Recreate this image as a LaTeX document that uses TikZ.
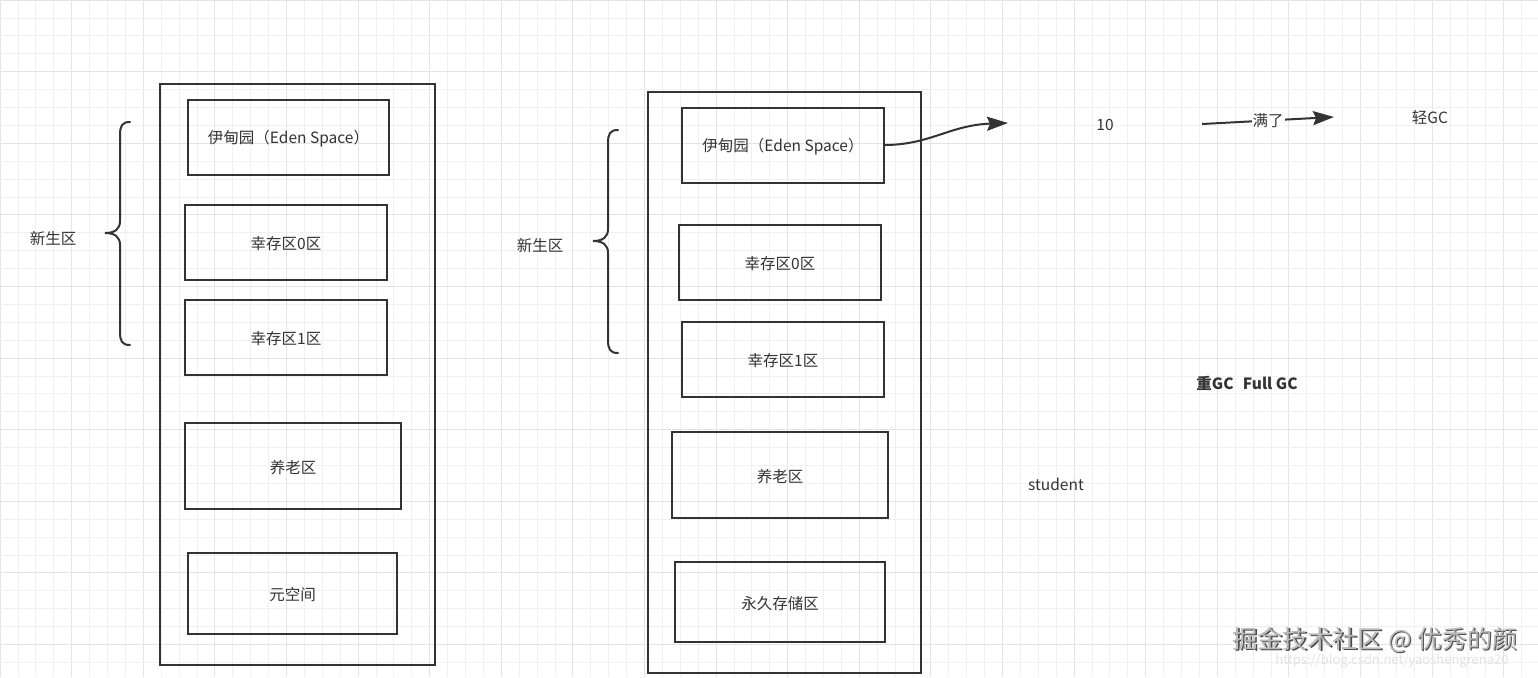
\documentclass[tikz,border=0pt]{standalone}
\usepackage{fontspec}
\setmainfont{Noto Sans CJK SC}
\usetikzlibrary{arrows.meta}
\definecolor{ink}{HTML}{333333}
\definecolor{gridminor}{HTML}{F0F0F0}
\definecolor{gridmajor}{HTML}{E4E4E4}
\tikzset{
  box/.style={draw=ink, line width=2pt, align=center, text=ink},
  lbl/.style={text=ink, font=\fontsize{15.5}{18}\selectfont, inner sep=1pt},
  brace/.style={draw=ink, line width=2pt, line cap=round},
  conn/.style={draw=ink, line width=2pt, -{Stealth[length=21pt,width=14pt,inset=3pt]}},
}
\newcommand{\boxat}[5]{% name, x1,y1,x2,y2
  \node[box, minimum width={#4-#2}, minimum height={#5-#3}, inner sep=0pt] (#1) at ({(#2+#4)/2},{(#3+#5)/2}) {};}
\begin{document}
\begin{tikzpicture}[x=1pt,y=-1pt]
\useasboundingbox (0,0) rectangle (1538,677);
\fill[white] (0,0) rectangle (1538,677);
% grid
\foreach \i in {0,...,86}{
  \pgfmathsetmacro\xx{\i*17.9}
  \pgfmathtruncatemacro\mm{mod(\i,4)}
  \ifnum\mm=0
    \draw[gridmajor, line width=0.9pt] (\xx,0) -- (\xx,677);
  \else
    \draw[gridminor, line width=0.7pt] (\xx,0) -- (\xx,677);
  \fi
}
\foreach \j in {0,...,38}{
  \pgfmathsetmacro\yy{\j*17.9}
  \pgfmathtruncatemacro\mm{mod(\j,4)}
  \ifnum\mm=0
    \draw[gridmajor, line width=0.9pt] (0,\yy) -- (1538,\yy);
  \else
    \draw[gridminor, line width=0.7pt] (0,\yy) -- (1538,\yy);
  \fi
}
% ---------- left column ----------
\boxat{outerL}{160}{84}{435}{665}
\boxat{edenL}{188}{100}{389}{175}
\boxat{s0L}{185}{205}{387}{280}
\boxat{s1L}{185}{300}{387}{375}
\boxat{oldL}{185}{423}{401}{509}
\boxat{metaL}{188}{553}{397}{634}
\node[lbl] at ([yshift=-1.5pt]edenL) {伊甸园（Eden Space）};
\node[lbl] at ([yshift=-1.5pt]s0L) {幸存区0区};
\node[lbl] at ([yshift=-1.5pt]s1L) {幸存区1区};
\node[lbl] at ([yshift=-1.5pt]oldL) {养老区};
\node[lbl] at ([yshift=-1.5pt]metaL) {元空间};
\draw[brace] (130,122) .. controls (122,122) and (120,126) .. (120,135) -- (120,221)
  .. controls (120,229) and (115,233) .. (105,233)
  .. controls (115,233) and (120,237) .. (120,245) -- (120,332)
  .. controls (120,341) and (122,345) .. (130,345);
\node[lbl] (yL) at (53,239) {新生区};
% ---------- right column ----------
\boxat{outerR}{648}{92}{921}{673}
\boxat{edenR}{682}{108}{884}{183}
\boxat{s0R}{679}{225}{881}{300}
\boxat{s1R}{682}{322}{884}{397}
\boxat{oldR}{672}{432}{888}{518}
\boxat{permR}{675}{562}{885}{642}
\node[lbl] at ([yshift=-1.5pt]edenR) {伊甸园（Eden Space）};
\node[lbl] at ([yshift=-1.5pt]s0R) {幸存区0区};
\node[lbl] at ([yshift=-1.5pt]s1R) {幸存区1区};
\node[lbl] at ([yshift=-1.5pt]oldR) {养老区};
\node[lbl] at ([yshift=-1.5pt]permR) {永久存储区};
\draw[brace] (618,130) .. controls (610,130) and (608,134) .. (608,143) -- (608,229)
  .. controls (608,237) and (603,241) .. (593,241)
  .. controls (603,241) and (608,245) .. (608,253) -- (608,340)
  .. controls (608,349) and (610,353) .. (618,353);
\node[lbl] (yR) at (540,246) {新生区};
% ---------- right side texts and arrows ----------
\coordinate (a1s) at (884,145);
\coordinate (a1e) at (1008,123);
\draw[conn] (a1s) .. controls (930,145) and (950,125) .. (a1e);
\node[lbl] (ten) at (1105,125) {10};
\coordinate (a2s) at (1202,124);
\coordinate (a2e) at (1334,117);
\draw[conn] (a2s) -- node[lbl, fill=white, inner sep=1pt, pos=0.5] (full) {满了} (a2e);
\node[lbl] (light) at (1430,118) {轻GC};
\node[lbl, font=\fontsize{15.5}{18}\selectfont\bfseries] (heavy) at (1247,383) {重GC\hspace{0.6em}Full GC};
\node[lbl] (stu) at (1056,484) {student};
% watermark
\node[text=gray!22, font=\fontsize{13}{14}\selectfont, inner sep=0pt] (wm2) at (1392,661) {https://blog.csdn.net/yaoshengrena20};
\node[text=black!70, font=\fontsize{25}{28}\selectfont, inner sep=0pt] (wm0) at (1376.5,641.5) {掘金技术社区 @ 优秀的颜};
\node[text=gray!55, font=\fontsize{25}{28}\selectfont, inner sep=0pt] (wm1) at (1375,640) {掘金技术社区 @ 优秀的颜};
\end{tikzpicture}
\end{document}
